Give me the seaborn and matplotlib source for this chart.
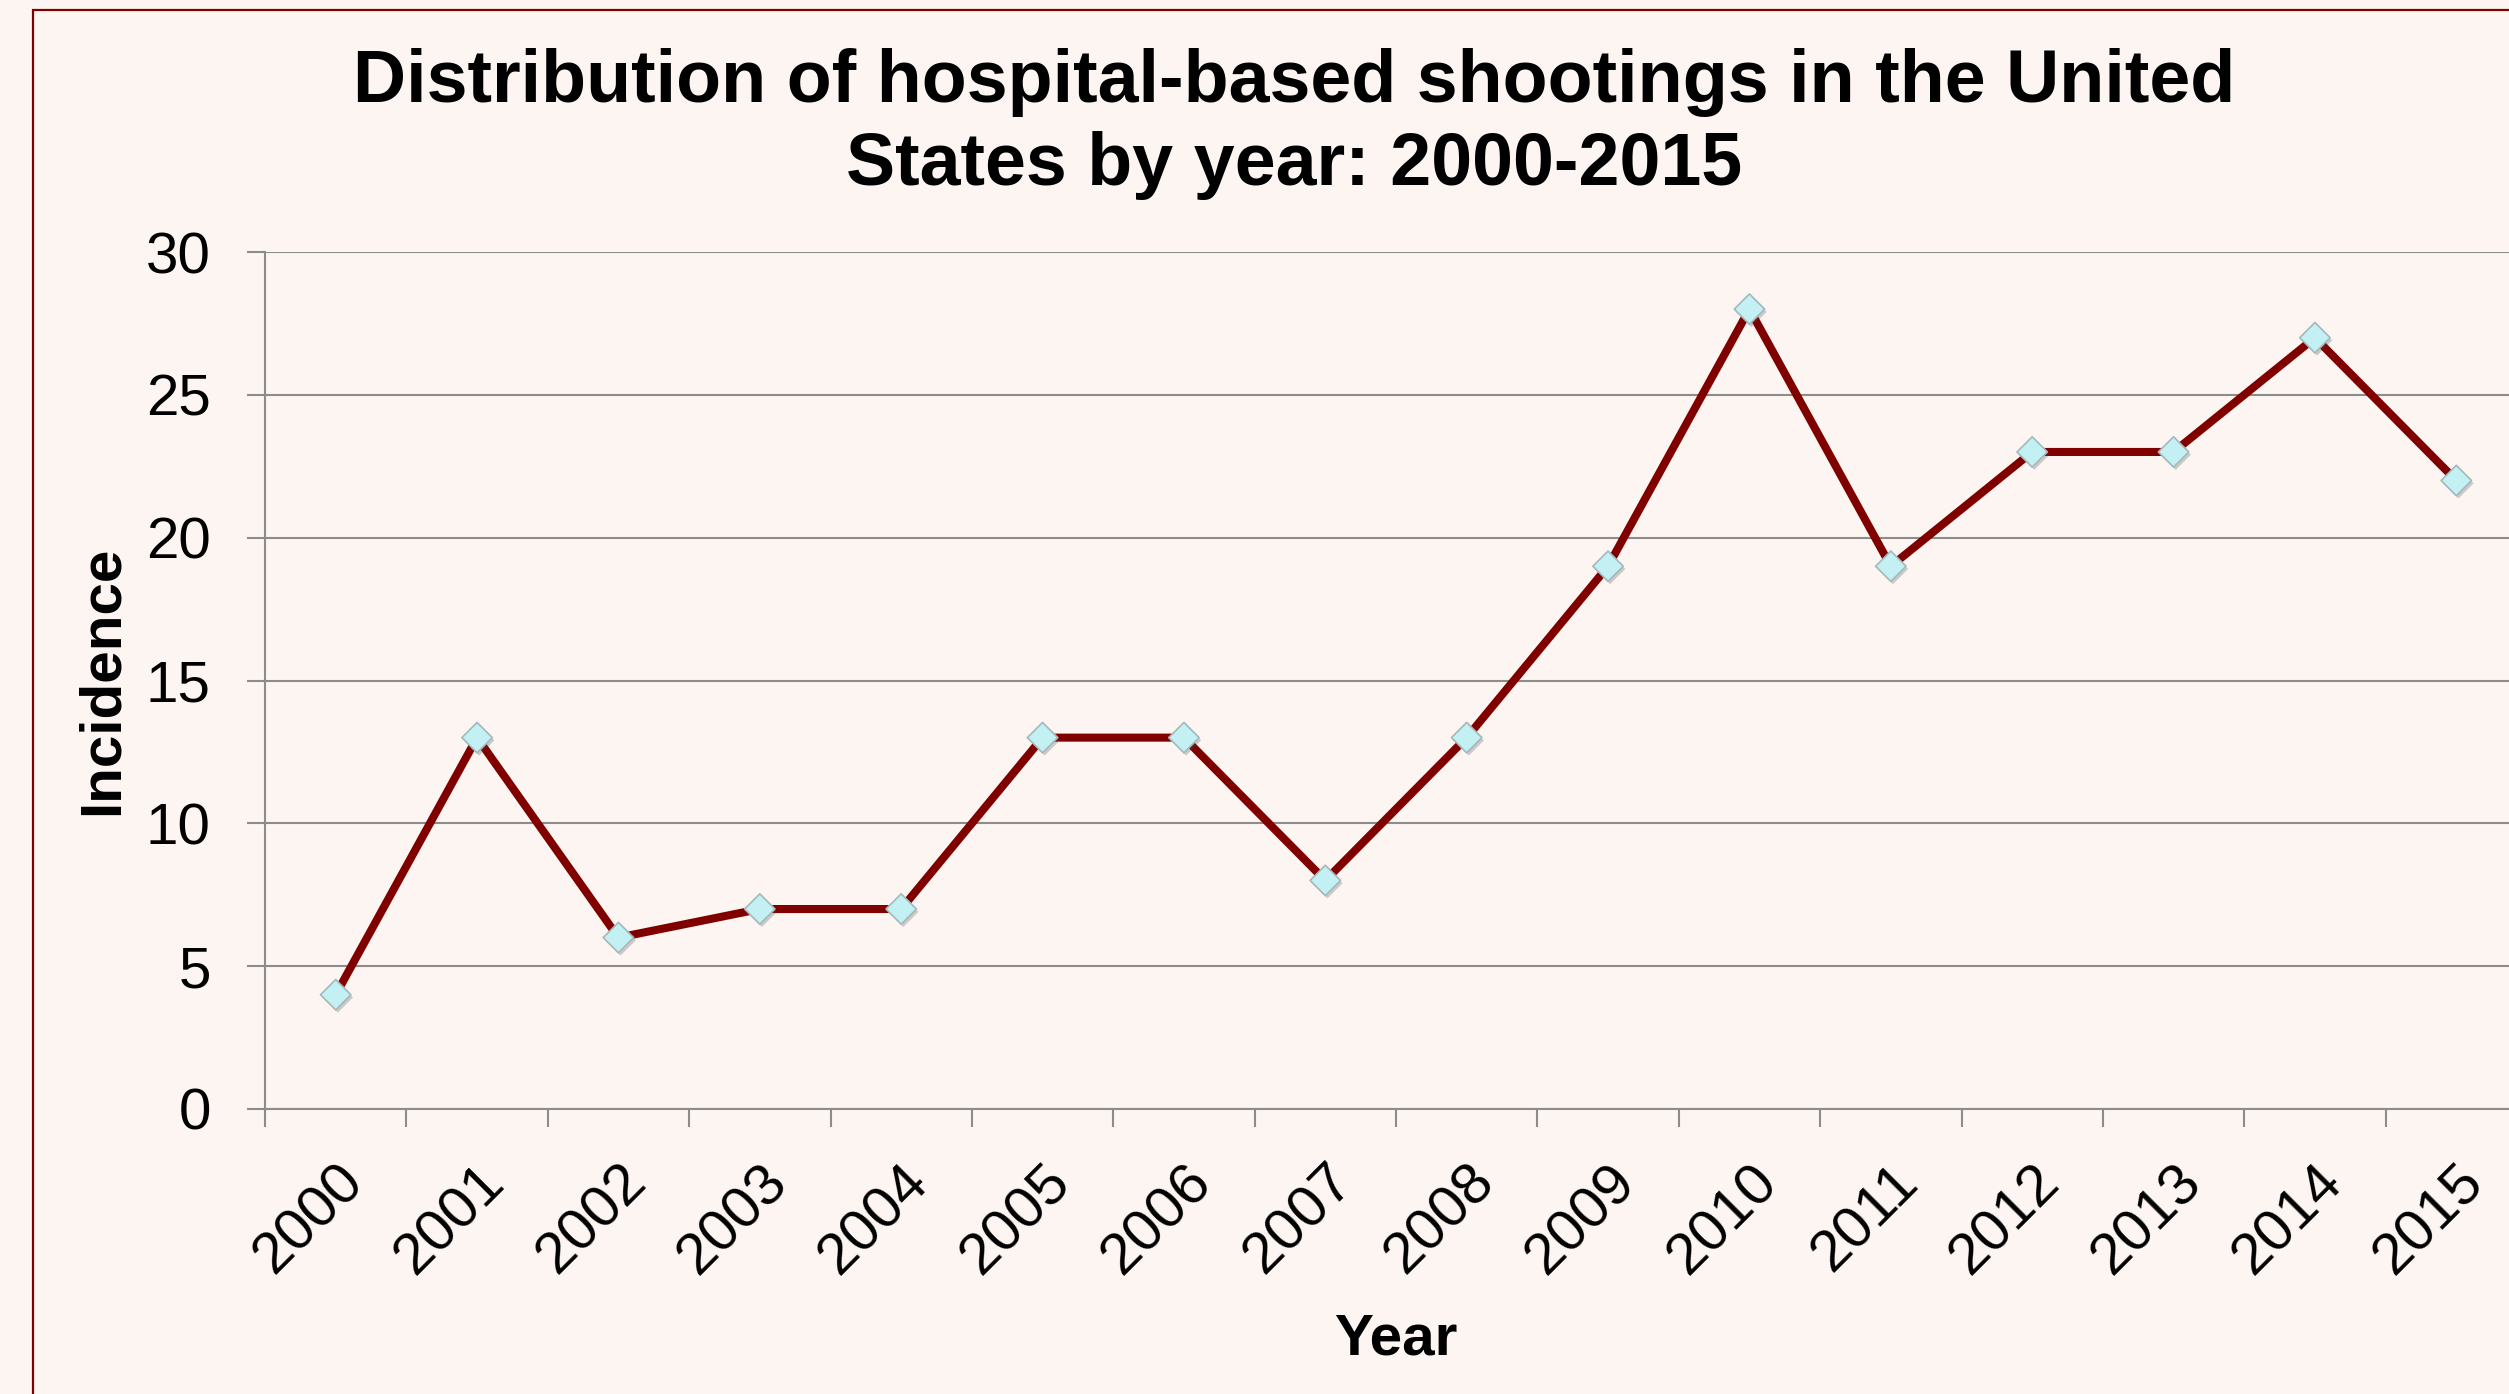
import matplotlib
matplotlib.use("Agg")
import matplotlib.pyplot as plt
import matplotlib.patheffects as pe
from matplotlib.patches import Rectangle
import pandas as pd
import seaborn as sns

# chart data
years = [2000, 2001, 2002, 2003, 2004, 2005, 2006, 2007,
         2008, 2009, 2010, 2011, 2012, 2013, 2014, 2015]
incidence = [4, 13, 6, 7, 7, 13, 13, 8, 13, 19, 28, 19, 23, 23, 27, 22]
y_ticks = [0, 5, 10, 15, 20, 25, 30]

title = "Distribution of hospital-based shootings in the United\nStates by year: 2000-2015"
x_label = "Year"
y_label = "Incidence"

bg = "#fdf5f1"
grid_col = "#8c8c8c"
line_col = "#800000"

sns.set_style("white", rc={"axes.facecolor": bg, "figure.facecolor": bg})
plt.rcParams["font.family"] = ["Liberation Sans", "DejaVu Sans"]
plt.rcParams["text.color"] = "black"
plt.rcParams["axes.labelcolor"] = "black"

df = pd.DataFrame({"Year": years, "Incidence": incidence})

W, H = 2509, 1394
fig = plt.figure(figsize=(W / 100, H / 100), dpi=100)
ax = fig.add_axes([265 / W, 1 - 1109 / H, 2262 / W, 857 / H])

sns.lineplot(data=df, x="Year", y="Incidence", ax=ax, color=line_col,
             linewidth=5.8, zorder=3)
sns.scatterplot(data=df, x="Year", y="Incidence", ax=ax, marker="D", s=240,
                color="#c3f0f3", edgecolor="#a3b9bc", linewidth=1.2, zorder=4,
                path_effects=[pe.SimplePatchShadow(offset=(1.5, -2), alpha=0.25),
                              pe.Normal()])

ax.set_xlim(years[0] - 0.5, years[-1] + 0.5)
ax.set_ylim(0, 30)
ax.set_yticks(y_ticks)
ax.set_xticks(years)
ax.set_xticklabels([str(y) for y in years], rotation=45, ha="right",
                   rotation_mode="anchor")
ax.set_xticks([y - 0.5 for y in years] + [years[-1] + 0.5], minor=True)

ax.tick_params(axis="x", which="major", length=0, pad=33, labelsize=42,
               labelcolor="black")
ax.tick_params(axis="x", which="minor", length=13, width=1.5, color=grid_col,
               direction="out", bottom=True)
ax.tick_params(axis="y", length=13, width=1.5, color=grid_col, direction="out",
               pad=26, labelsize=42, left=True, labelcolor="black")

ax.yaxis.grid(True, color=grid_col, linewidth=1.5)
ax.xaxis.grid(False)
for side in ["top", "right"]:
    ax.spines[side].set_visible(False)
for side in ["left", "bottom"]:
    ax.spines[side].set_color(grid_col)
    ax.spines[side].set_linewidth(1.5)

ax.set_xlabel(x_label, fontsize=42, fontweight="bold", labelpad=20)
ax.set_ylabel(y_label, fontsize=42, fontweight="bold", labelpad=12)

fig.text(1294 / W, 1 - 124 / H, title, ha="center", va="center", fontsize=53,
         fontweight="bold", linespacing=1.27)

# outer frame (clipped on right and bottom like the source)
fig.add_artist(Rectangle((33 / W, -0.1), 2.0, 1 - 10 / H + 0.1,
                         transform=fig.transFigure, fill=False,
                         edgecolor=line_col, linewidth=1.6, clip_on=False))

fig.savefig("out.png", dpi=100, facecolor=bg)
